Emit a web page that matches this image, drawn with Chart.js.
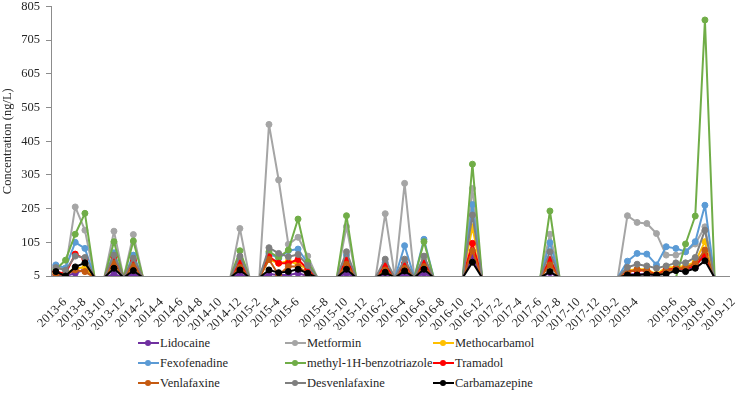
<!DOCTYPE html>
<html>
<head>
<meta charset="utf-8">
<script src="https://cdn.jsdelivr.net/npm/chart.js@4.4.0/dist/chart.umd.min.js"></script>
<style>
  body { margin: 0; background: #fff; }
  .wrap { position: relative; width: 746px; height: 393px; overflow: hidden; font-family: "Liberation Serif", "Times New Roman", Times, serif; }
  #chartBox { position: absolute; left: 0; top: -7px; width: 746px; height: 337px; }
  .leg { position: absolute; height: 16px; font-size: 12.5px; line-height: 16px; color: #262626; white-space: nowrap; }
  .leg .ln { position: absolute; left: 0; top: 7px; width: 21px; height: 2px; }
  .leg .dot { position: absolute; left: 7px; top: 5px; width: 6px; height: 6px; border-radius: 50%; }
  .leg .txt { position: absolute; left: 22px; top: 0; }
</style>
</head>
<body>
<div class="wrap">
  <div id="chartBox"><canvas id="chart"></canvas></div>
  <div id="legend"></div>
</div>
<script>
// category slots (one per sampling slot), only some carry a label
const tickLabels = ["2013-6","","2013-8","","2013-10","","2013-12","","2014-2","",
  "2014-4","","2014-6","","2014-8","","2014-10","","2014-12","",
  "2015-2","","2015-4","","2015-6","","","2015-8","","2015-10",
  "","2015-12","","2016-2","","2016-4","","2016-6","","2016-8",
  "","2016-10","","2016-12","","2017-2","","2017-4","","2017-6",
  "","2017-8","","2017-10","","2017-12","","2019-2","","2019-4",
  "","","","2019-6","","2019-8","","2019-10","","2019-12"];

// slots that hold a measurement (all others are empty cells, shown as zero)
const sampleIdx = [0, 1, 2, 3, 6, 8, 19, 22, 23, 24, 25, 26, 30, 34, 36, 38, 43, 51,
  59, 60, 61, 62, 63, 64, 65, 66, 67];

const lidocaine      = [8, 5, 13, 25, 11, 10, 10, 11, 8, 8, 13, 5, 13, 8, 11, 13, 62, 15, 10, 10, 10, 8, 25, 25, 27, 30, 77];
const metformin      = [35, 25, 210, 141, 138, 128, 146, 455, 290, 99, 120, 64, 152, 190, 280, 55, 265, 129, 184, 164, 161, 131, 67, 67, 77, 100, 151];
const methocarbamol  = [15, 12, 28, 30, 52, 43, 38, 54, 43, 49, 40, 25, 43, 28, 30, 36, 151, 45, 21, 25, 25, 10, 31, 31, 35, 47, 107];
const fexofenadine   = [38, 29, 105, 87, 74, 67, 54, 72, 57, 80, 85, 43, 67, 45, 95, 114, 217, 104, 49, 72, 70, 38, 92, 87, 77, 107, 215];
const benzotriazole  = [25, 52, 129, 191, 107, 109, 80, 77, 60, 82, 174, 47, 184, 35, 40, 107, 337, 198, null, null, null, null, null, null, 100, 183, 765];
const tramadol       = [18, 12, 70, 55, 61, 52, 44, 62, 43, 43, 54, 25, 52, 36, 43, 44, 102, 54, 18, 21, 21, 8, 23, 27, 27, 35, 67];
const venlafaxine    = [10, 8, 23, 18, 43, 35, 31, 54, 8, 33, 33, 12, 40, 23, 28, 33, 80, 38, 15, 25, 20, 5, 20, 25, 30, 42, 82];
const desvenlafaxine = [30, 22, 64, 60, 67, 58, 64, 89, 72, 62, 69, 36, 77, 55, 55, 64, 186, 77, 31, 40, 35, 28, 35, 44, 44, 60, 141];
const carbamazepine  = [18, 5, 32, 44, 28, 21, 23, 23, 15, 18, 25, 13, 25, 16, 20, 25, 46, 18, 8, 8, 10, 8, 11, 21, 18, 28, 50];

const yTicks = [5, 105, 205, 305, 405, 505, 605, 705, 805];

const seriesNames = ["Lidocaine", "Metformin", "Methocarbamol", "Fexofenadine",
  "methyl-1H-benzotriazole", "Tramadol", "Venlafaxine", "Desvenlafaxine", "Carbamazepine"];
const seriesColors = ["#7030A0", "#A5A5A5", "#FFC000", "#5B9BD5", "#70AD47",
  "#FF0000", "#C55A11", "#7F7F7F", "#000000"];
const seriesValues = [lidocaine, metformin, methocarbamol, fexofenadine, benzotriazole,
  tramadol, venlafaxine, desvenlafaxine, carbamazepine];

const serif = "'Liberation Serif', 'Times New Roman', Times, serif";
const textColor = "#262626";
const axisColor = "#8c8c8c";

function spread(vals) {
  const out = tickLabels.map(() => null);
  sampleIdx.forEach((slot, k) => { out[slot] = vals[k]; });
  return out;
}

const datasets = seriesValues.map((vals, i) => {
  const full = spread(vals);
  return {
    label: seriesNames[i],
    data: full.map((v) => (v === null ? 0 : v)),
    borderColor: seriesColors[i],
    backgroundColor: seriesColors[i],
    pointBackgroundColor: seriesColors[i],
    pointBorderColor: seriesColors[i],
    borderWidth: 2,
    borderJoinStyle: "round",
    borderCapStyle: "round",
    pointBorderWidth: 1,
    pointRadius: (ctx) => (full[ctx.dataIndex] === null ? 0 : 3),
    tension: 0,
    order: seriesValues.length - 1 - i,
    clip: { left: 6, right: 6, top: 6, bottom: 0 },
  };
});

new Chart(document.getElementById("chart"), {
  type: "line",
  data: { labels: tickLabels, datasets: datasets },
  options: {
    responsive: true,
    maintainAspectRatio: false,
    animation: false,
    layout: { padding: { top: 0, right: 12, bottom: 0, left: 0 } },
    plugins: {
      legend: { display: false },
      tooltip: { enabled: false },
    },
    scales: {
      x: {
        type: "category",
        offset: true,
        grid: { display: false },
        border: { display: true, color: axisColor, width: 1 },
        ticks: {
          autoSkip: false,
          maxRotation: 45,
          minRotation: 45,
          padding: 11,
          labelOffset: 9,
          color: textColor,
          font: { family: serif, size: 12.5 },
        },
        afterFit: (s) => { s.height = 54; },
      },
      y: {
        min: 5,
        max: 805,
        afterBuildTicks: (s) => { s.ticks = yTicks.map((v) => ({ value: v })); },
        grid: { display: true, drawOnChartArea: false, drawTicks: true, tickLength: 5, color: axisColor },
        border: { display: true, color: axisColor, width: 1 },
        ticks: {
          padding: 6,
          color: textColor,
          font: { family: serif, size: 12.5 },
        },
        title: {
          display: true,
          text: "Concentration (ng/L)",
          color: textColor,
          font: { family: serif, size: 12.5 },
          padding: { top: 0, bottom: 2 },
        },
        afterFit: (s) => { s.width = 51; },
      },
    },
  },
});

// legend laid out as a 3-column grid under the plot
const legendCols = [138, 285, 433];
const legendRows = [335, 355, 375];
const legend = document.getElementById("legend");
seriesNames.forEach((name, i) => {
  const item = document.createElement("div");
  item.className = "leg";
  item.style.left = legendCols[i % 3] + "px";
  item.style.top = legendRows[Math.floor(i / 3)] + "px";
  item.innerHTML = '<span class="ln"></span><span class="dot"></span><span class="txt"></span>';
  item.querySelector(".ln").style.background = seriesColors[i];
  item.querySelector(".dot").style.background = seriesColors[i];
  item.querySelector(".txt").textContent = name;
  legend.appendChild(item);
});
</script>
</body>
</html>
